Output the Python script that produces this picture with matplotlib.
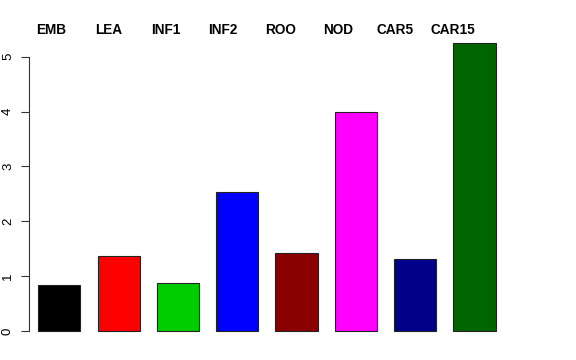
import matplotlib
matplotlib.use("Agg")
import matplotlib.pyplot as plt
import matplotlib.transforms as mtransforms

# data
tissues = ['EMB', 'LEA', 'INF1', 'INF2', 'ROO', 'NOD', 'CAR5', 'CAR15']
values = [0.84, 1.37, 0.88, 2.54, 1.42, 3.99, 1.31, 5.25]
colors = ['#000000', '#FF0000', '#00CD00', '#0000FF', '#8B0000', '#FF00FF', '#00008B', '#006400']

plt.rcParams['font.family'] = ['Liberation Sans', 'DejaVu Sans']

fig = plt.figure(figsize=(5.76, 3.6), dpi=100)
W, H = 576, 360
# axes box in pixels: left 29, right 513, top 31.5, bottom 342.5
ax = fig.add_axes([29 / W, (H - 342.5) / H, (513 - 29) / W, (342.5 - 31.5) / H])

x = list(range(len(values)))
ax.bar(x, values, width=0.71, color=colors, edgecolor='#222222', linewidth=0.8)

ax.set_xlim(-0.511, 7.65)
ax.set_ylim(-0.21, 5.46)
ax.set_yticks([0, 1, 2, 3, 4, 5])
ax.set_yticklabels(['0', '1', '2', '3', '4', '5'], rotation=90, va='center', fontsize=9.5)
ax.tick_params(axis='y', length=5.8, width=0.8, pad=5, color='#333333')
ax.set_xticks([])

for side in ['top', 'right', 'bottom']:
    ax.spines[side].set_visible(False)
ax.spines['left'].set_bounds(0, 5)
ax.spines['left'].set_linewidth(0.8)
ax.spines['left'].set_color('#333333')

# tissue names across the top
trans = mtransforms.blended_transform_factory(ax.transData, fig.transFigure)
for i, name in enumerate(tissues):
    ax.text(-0.14 + 0.967 * i, (H - 34.3) / H, name, transform=trans,
            ha='center', va='baseline', fontsize=9.8, fontweight='bold')

fig.savefig('out.png', dpi=100)
